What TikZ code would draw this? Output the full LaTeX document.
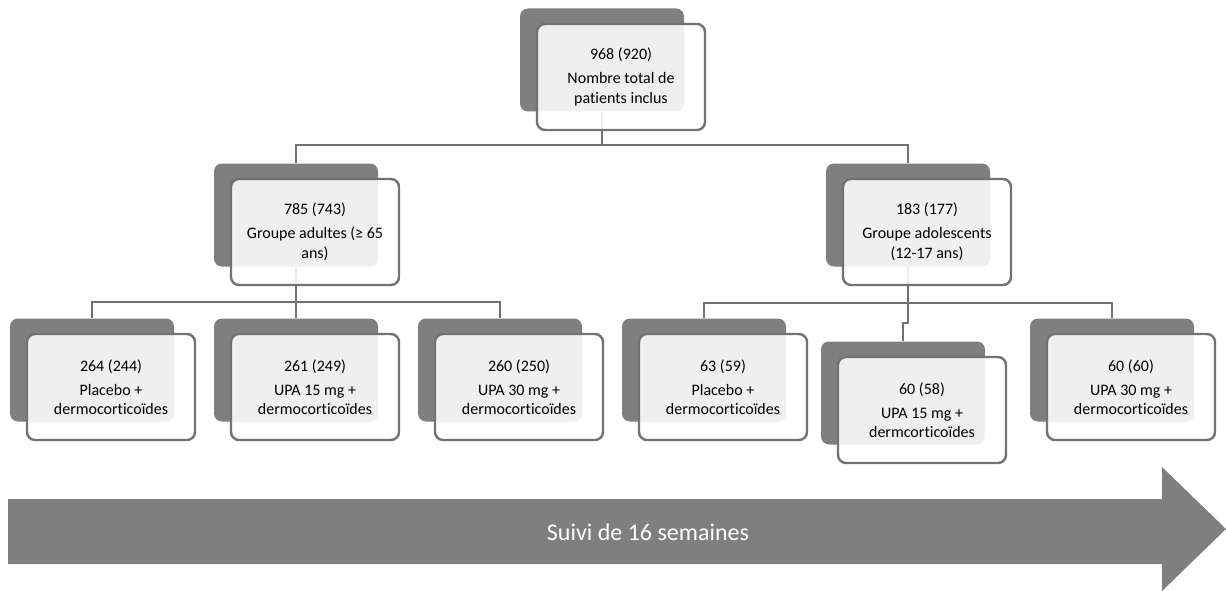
\documentclass[tikz,border=0pt]{standalone}
\usepackage{fontspec}
\setmainfont{Carlito}[Ligatures=NoCommon]
\usetikzlibrary{calc,backgrounds}
\definecolor{darkfill}{HTML}{7F7F7F}
\definecolor{boxline}{HTML}{727272}
\tikzset{backbox/.style={fill=darkfill,rounded corners=8pt,minimum width=164pt,minimum height=103pt,inner sep=0pt},
  frontbox/.style={draw=boxline,line width=2.4pt,fill=white,fill opacity=0.88,draw opacity=1,text opacity=1,rounded corners=8pt,minimum width=168pt,minimum height=106pt,align=center,font=\fontsize{16}{19.5}\selectfont},
  conn/.style={draw=boxline,line width=2.4pt}}
% back box + front box, front one is called <name>t
\newcommand{\grpnode}[4]{%
  \node[backbox] (#1) at (#2,#3) {};
  \node[frontbox] (#1t) at ({#2+19},{#3+17}) {#4};}

\begin{document}
\begin{tikzpicture}[x=1pt,y=-1pt]
\useasboundingbox (0,0) rectangle (1226,591);
% draw boxes
\grpnode{tot}{602}{60}{968 (920)\\[4.5pt]Nombre total de\\patients inclus}
\grpnode{adu}{296}{215}{785 (743)\\[4.5pt]Groupe adultes (≥ 65\\ans)}
\grpnode{ado}{908}{215}{183 (177)\\[4.5pt]Groupe adolescents\\(12-17 ans)}
\grpnode{aduPla}{92}{370}{264 (244)\\[4.5pt]Placebo +\\dermocorticoïdes}
\grpnode{aduUa}{296}{370}{261 (249)\\[4.5pt]UPA 15 mg +\\dermocorticoïdes}
\grpnode{aduUb}{500}{370}{260 (250)\\[4.5pt]UPA 30 mg +\\dermocorticoïdes}
\grpnode{adoPla}{704}{370}{63 (59)\\[4.5pt]Placebo +\\dermocorticoïdes}
\grpnode{adoUa}{903}{393}{60 (58)\\[4.5pt]UPA 15 mg +\\dermcorticoïdes}
\grpnode{adoUb}{1112}{370}{60 (60)\\[4.5pt]UPA 30 mg +\\dermocorticoïdes}
% draw connectors
\begin{scope}[on background layer]
\draw[conn] (tot.south) -- ++(0,33.5) -| (adu.north);
\draw[conn] (tot.south) -- ++(0,33.5) -| (ado.north);
\draw[conn] (adu.south) -- ++(0,35.5) -| (aduPla.north);
\draw[conn] (adu.south) -- ++(0,35.5) -| (aduUa.north);
\draw[conn] (adu.south) -- ++(0,35.5) -| (aduUb.north);
\draw[conn] (ado.south) -- ++(0,36.5) -| (adoPla.north);
\draw[conn] (ado.south) -- ++(0,56.5) -| (adoUa.north);
\draw[conn] (ado.south) -- ++(0,36.5) -| (adoUb.north);
\end{scope}
% draw time arrow
\fill[darkfill] (8,499) -- (1162,499) -- (1162,467) -- (1226,529) -- (1162,591) -- (1162,564) -- (8,564) -- cycle;
\node[white,font=\fontsize{24}{28}\selectfont] (suivi) at (648,532) {Suivi de 16 semaines};
\end{tikzpicture}
\end{document}
